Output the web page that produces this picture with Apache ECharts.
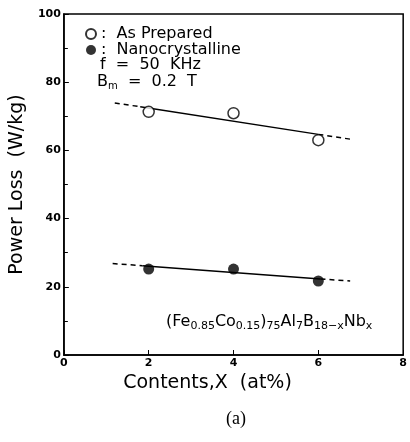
<!DOCTYPE html>
<html><head><meta charset="utf-8">
<script src="https://cdn.jsdelivr.net/npm/echarts@6/dist/echarts.min.js"></script>
<style>html,body{margin:0;padding:0;background:#fff}#c{width:410px;height:442px}</style>
</head><body><div id="c"></div>
<script>
const xPoints = [2, 4, 6];
const asPrepared = [71.3, 70.9, 63.0];
const nanocrystalline = [25.2, 25.2, 21.7];
const fitPreparedX = [1.2, 1.8, 6.0, 6.75];
const fitPreparedY = [73.9, 72.8, 64.7, 63.3];
const fitNanoX = [1.15, 1.85, 6.05, 6.75];
const fitNanoY = [26.8, 26.2, 22.3, 21.7];
const seriesNames = ['As Prepared', 'Nanocrystalline'];
const notes = ['f  =  50  KHz', 'B{s|m}  =  0.2  T'];

const pts = (xs, ys, idx) => idx.map(i => [xs[i], ys[i]]);
const FONT = '"DejaVu Sans"';
const chart = echarts.init(document.getElementById('c'));
const lineSeries = (xs, ys) => [
  {type:'line', data: pts(xs, ys, [1,2]), symbol:'none', lineStyle:{color:'#000', width:1.5}, z:1},
  {type:'line', data: pts(xs, ys, [0,1]), symbol:'none', lineStyle:{color:'#000', width:1.5, type:[5,4]}, z:1},
  {type:'line', data: pts(xs, ys, [2,3]), symbol:'none', lineStyle:{color:'#000', width:1.5, type:[5,4]}, z:1}
];
chart.setOption({
  animation:false,
  grid:{left:61, top:14, right:5, bottom:87, show:true, borderColor:'#000', borderWidth:1.5},
  legend:{data:seriesNames, orient:'vertical', left:80, top:21, itemWidth:10, itemHeight:10, itemGap:0,
    formatter: n => ':  ' + n,
    textStyle:{fontFamily:'DejaVu Sans', fontSize:16, lineHeight:16, color:'#000'}},
  xAxis:{type:'value', min:0, max:8, interval:2, name:'Contents,X  (at%)', nameLocation:'middle', nameGap:15,
    nameTextStyle:{fontFamily:'DejaVu Sans', fontSize:19, color:'#000', padding:[0,52,0,0]},
    axisLine:{lineStyle:{color:'#000', width:1.5}},
    axisTick:{inside:true, length:5, lineStyle:{color:'#000'}},
    axisLabel:{fontFamily:'DejaVu Sans', fontSize:11, fontWeight:'bold', color:'#000', margin:3},
    splitLine:{show:false}},
  yAxis:{type:'value', min:0, max:100, interval:20, name:'Power Loss  (W/kg)', nameLocation:'middle', nameGap:32,
    nameTextStyle:{fontFamily:'DejaVu Sans', fontSize:19, color:'#000'},
    axisLine:{lineStyle:{color:'#000', width:1.5}},
    axisTick:{inside:true, length:5, lineStyle:{color:'#000'}},
    minorTick:{show:true, splitNumber:2, length:4, lineStyle:{color:'#000'}},
    axisLabel:{fontFamily:'DejaVu Sans', fontSize:11, fontWeight:'bold', color:'#000', margin:3},
    splitLine:{show:false}},
  graphic:[
    {type:'text', left:100, top:57, style:{text:notes[0], font:'16px '+FONT, fill:'#000'}},
    {type:'text', left:97, top:74, style:{text:notes[1], font:'16px '+FONT, fill:'#000',
      rich:{s:{fontSize:10, fontFamily:'DejaVu Sans', padding:[8,0,0,0]}}}},
    {type:'text', left:166, top:314, style:{
      text:'(Fe{s|0.85}Co{s|0.15}){s|75}Al{s|7}B{s|18−x}Nb{s|x}', font:'16px '+FONT, fill:'#000',
      rich:{s:{fontSize:11, fontFamily:'DejaVu Sans', padding:[9,0,0,0]}}}},
    {type:'text', left:226, top:410, style:{text:'(a)', font:'18px "Liberation Serif"', fill:'#000'}}
  ],
  series:[
    {name:seriesNames[0], type:'scatter', data:xPoints.map((x,i)=>[x, asPrepared[i]]), symbol:'circle', symbolSize:11,
      itemStyle:{color:'#fff', borderColor:'#000', borderWidth:1.5}, z:3},
    {name:seriesNames[1], type:'scatter', data:xPoints.map((x,i)=>[x, nanocrystalline[i]]), symbol:'circle', symbolSize:11,
      itemStyle:{color:'#000'}, z:3},
    ...lineSeries(fitPreparedX, fitPreparedY),
    ...lineSeries(fitNanoX, fitNanoY)
  ]
});
</script></body></html>
